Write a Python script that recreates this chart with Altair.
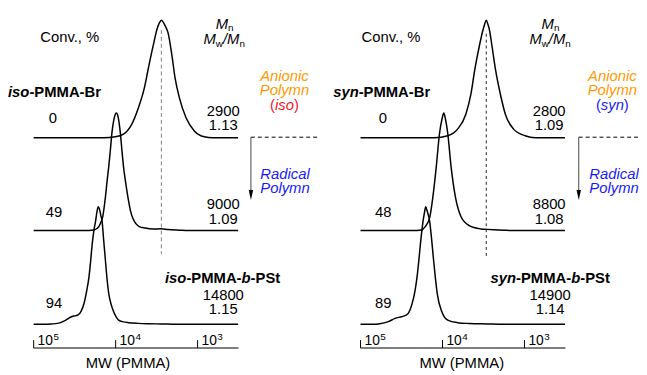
import altair as alt
import pandas as pd

FONT = "Liberation Sans"
W, H = 639, 367

# ---------------- values ----------------
# GPC traces: log10(MW) and RI intensity (% of peak)
iso_br_logmw = [5.000, 4.145, 4.004, 3.904, 3.804, 3.723, 3.651, 3.602, 3.542, 3.490, 3.466, 3.442,
                3.418, 3.394, 3.361, 3.313, 3.274, 3.221, 3.141, 3.040, 2.919, 2.819, 2.506]
iso_br_int = [0, 0, 0.8, 3.1, 11.4, 25.3, 42.0, 58.7, 78.3, 93.6, 97.7, 100,
              98.2, 95.0, 89.4, 69.9, 50.4, 33.7, 17.0, 5.8, 0.8, 0, 0]

iso_49_logmw = [5.000, 4.325, 4.265, 4.229, 4.205, 4.181, 4.157, 4.139, 4.124, 4.105, 4.084, 4.064,
                4.045, 4.024, 4.006, 3.992, 3.976, 3.958, 3.943, 3.924, 3.904, 3.874, 3.843, 3.819,
                3.789, 3.753, 3.711, 3.639, 3.542, 3.446, 3.361, 3.217, 3.121, 2.506]
iso_49_int = [0, 0, 0.4, 1.7, 3.4, 6.8, 11.9, 20.4, 28.9, 41.6, 54.4, 68.8,
              83.3, 93.5, 98.6, 100, 98.6, 91.8, 83.3, 68.8, 54.4, 39.1, 25.5, 17.0,
              10.2, 5.9, 3.4, 2.1, 1.3, 1.5, 0.8, 0.3, 0, 0]

iso_94_logmw = [5.000, 4.868, 4.783, 4.711, 4.651, 4.602, 4.566, 4.530, 4.494, 4.458, 4.422, 4.386,
                4.355, 4.325, 4.305, 4.286, 4.265, 4.245, 4.229, 4.213, 4.196, 4.181, 4.165, 4.147,
                4.124, 4.105, 4.084, 4.054, 4.024, 3.994, 3.964, 3.904, 3.843, 3.723, 3.602, 3.446,
                3.241, 2.506]
iso_94_int = [0, 0, 0.3, 0.8, 2.1, 3.8, 5.5, 6.7, 7.2, 8.0, 11.0, 17.7,
              27.8, 40.4, 53.9, 68.2, 80.0, 87.6, 95.2, 100, 97.7, 92.7, 87.6, 72.5,
              53.9, 38.8, 26.1, 16.8, 10.7, 6.3, 3.6, 2.1, 1.4, 0.8, 0.5, 0.3,
              0, 0]

syn_br_logmw = [5.000, 4.096, 3.936, 3.816, 3.715, 3.654, 3.606, 3.548, 3.502, 3.484, 3.466, 3.448,
                3.430, 3.398, 3.353, 3.293, 3.233, 3.133, 2.992, 2.868, 2.506]
syn_br_int = [0, 0, 1.7, 7.3, 20.0, 36.8, 57.9, 78.9, 92.7, 97.0, 100, 97.0,
              92.7, 78.9, 57.9, 36.8, 20.0, 7.3, 1.7, 0, 0]

syn_48_logmw = [5.000, 4.313, 4.253, 4.217, 4.157, 4.117, 4.076, 4.036, 4.006, 3.984, 3.964, 3.936,
                3.895, 3.843, 3.775, 3.675, 3.534, 3.454, 3.374, 3.253, 3.133, 2.506]
syn_48_int = [0, 0, 0.4, 2.8, 10.8, 28.8, 54.2, 82.8, 94.9, 100, 94.9, 82.8,
              54.2, 28.8, 11.9, 4.2, 1.4, 1.0, 0.7, 0.3, 0, 0]

syn_89_logmw = [5.000, 4.819, 4.780, 4.659, 4.578, 4.498, 4.452, 4.418, 4.370, 4.337, 4.310, 4.289,
                4.269, 4.237, 4.219, 4.205, 4.187, 4.157, 4.133, 4.108, 4.086, 4.064, 4.008, 3.936,
                3.816, 3.675, 3.454, 3.253, 2.506]
syn_89_int = [0, 0, 0.3, 2.3, 5.1, 6.5, 7.6, 9.3, 17.8, 27.9, 40.6, 54.1,
              68.5, 87.9, 95.5, 100, 96.4, 87.9, 72.7, 54.1, 39.0, 26.2, 10.7, 3.6,
              1.4, 0.7, 0.3, 0, 0]

conv_iso = ["0", "49", "94"]
conv_syn = ["0", "48", "89"]
mn_iso = ["2900", "9000", "14800"]
mn_syn = ["2800", "8800", "14900"]
pdi_iso = ["1.13", "1.09", "1.15"]
pdi_syn = ["1.09", "1.08", "1.14"]
tick_logmw = [5, 4, 3]
tick_exponents = ["5", "4", "3"]
axis_logmw = [5.0, 2.5]
iso_mp_logmw = [3.442]
syn_mp_logmw = [3.466]

# ---------------- layout ----------------
OFFSETS = [158.8, 79.8, 0.0]          # vertical stacking of the three traces
Y_DOMAIN = [-41.18, 267.23]
LEFT_DOMAIN = [-2.38554, 5.31325]
RIGHT_DOMAIN = [1.60241, 9.30120]
ORANGE, RED, BLUE = "#FF9900", "#F01828", "#1A1AF5"


def panel_frame(names, xs, ys):
    frames = []
    for n, lx, iy, off in zip(names, xs, ys, OFFSETS):
        frames.append(pd.DataFrame({"trace": n, "logmw": lx, "y": [v + off for v in iy]}))
    return pd.concat(frames, ignore_index=True)


left_df = panel_frame(["iso-Br", "iso-49", "iso-94"],
                      [iso_br_logmw, iso_49_logmw, iso_94_logmw],
                      [iso_br_int, iso_49_int, iso_94_int])
right_df = panel_frame(["syn-Br", "syn-48", "syn-89"],
                       [syn_br_logmw, syn_48_logmw, syn_89_logmw],
                       [syn_br_int, syn_48_int, syn_89_int])


def xq(field, domain):
    return alt.X(f"{field}:Q", scale=alt.Scale(domain=domain, reverse=True, zero=False, nice=False),
                 axis=None)


YENC = alt.Y("y:Q", scale=alt.Scale(domain=Y_DOMAIN, zero=False, nice=False), axis=None)


def label(s, x, y, size=15, weight="normal", style="normal", color="black", align="left"):
    return alt.Chart(pd.DataFrame({"t": [s]})).mark_text(
        align=align, baseline="alphabetic", font=FONT, fontSize=size,
        fontWeight=weight, fontStyle=style, color=color
    ).encode(text="t:N", x=alt.value(x), y=alt.value(y))


layers = []


def panel(df, dom, mp, mp_color, mp_dash, mp_y):
    layers.append(alt.Chart(df).mark_line(interpolate="monotone", color="black", strokeWidth=1.5).encode(
        x=xq("logmw", dom), y=YENC, detail="trace:N",
        order=alt.Order("logmw:Q", sort="descending")))
    ax = pd.DataFrame({"a": [axis_logmw[0]], "b": [axis_logmw[1]]})
    layers.append(alt.Chart(ax).mark_rule(color="black", strokeWidth=1.2).encode(
        x=xq("a", dom), x2="b:Q", y=alt.value(342)))
    tdf = pd.DataFrame({"logmw": tick_logmw, "exp": tick_exponents})
    layers.append(alt.Chart(tdf).mark_rule(color="black", strokeWidth=1).encode(
        x=xq("logmw", dom), y=alt.value(334), y2=alt.value(342)))
    layers.append(alt.Chart(tdf).mark_text(text="10", align="left", baseline="alphabetic", dx=4,
                                           font=FONT, fontSize=14).encode(
        x=xq("logmw", dom), y=alt.value(338.7)))
    layers.append(alt.Chart(tdf).mark_text(align="left", baseline="alphabetic", dx=20,
                                           font=FONT, fontSize=10).encode(
        x=xq("logmw", dom), y=alt.value(333.7), text="exp:N"))
    layers.append(alt.Chart(pd.DataFrame({"logmw": mp})).mark_rule(
        color=mp_color, strokeWidth=1, strokeDash=mp_dash).encode(
        x=xq("logmw", dom), y=alt.value(mp_y[0]), y2=alt.value(mp_y[1])))


panel(left_df, LEFT_DOMAIN, iso_mp_logmw, "#808080", [4, 3], (20, 247))
panel(right_df, RIGHT_DOMAIN, syn_mp_logmw, "#222222", [3, 3], (23.7, 248.7))

one = pd.DataFrame({"k": [0]})


def arrow(x):
    layers.append(alt.Chart(one).mark_rule(color="black", strokeWidth=1, strokeDash=[4, 3]).encode(
        x=alt.value(x), x2=alt.value(x + 70), y=alt.value(128.5)))
    layers.append(alt.Chart(one).mark_rule(color="#444444", strokeWidth=1).encode(
        x=alt.value(x), y=alt.value(128.5), y2=alt.value(186)))
    layers.append(alt.Chart(one).mark_point(shape="M-0.45,-1L0.45,-1L0,1Z", filled=True, opacity=1,
                                            color="black", size=100).encode(
        x=alt.value(x), y=alt.value(187)))


arrow(246)
arrow(578)


def m_block(x_mn, x_mw, base1=18.5, base2=34.5):
    layers.append(label("M", x_mn, base1, style="italic"))
    layers.append(label("n", x_mn + 12.5, base1 + 2.5, size=10))
    layers.append(label("M", x_mw, base2, style="italic"))
    layers.append(label("w", x_mw + 12.5, base2 + 2.5, size=10))
    layers.append(label("/", x_mw + 19.7, base2, style="italic"))
    layers.append(label("M", x_mw + 23.9, base2, style="italic"))
    layers.append(label("n", x_mw + 36.4, base2 + 2.5, size=10))


def bold_name(prefix, x, y, rest):
    pw = {"iso": 21.7, "syn": 25.8}[prefix]
    layers.append(label(prefix, x, y, weight="bold", style="italic"))
    layers.append(label(rest, x + pw, y, weight="bold"))


def block_name(prefix, x, y):
    pw = {"iso": 21.7, "syn": 25.8}[prefix]
    layers.append(label(prefix, x, y, weight="bold", style="italic"))
    layers.append(label("-PMMA-", x + pw, y, weight="bold"))
    layers.append(label("b", x + pw + 55.8, y, weight="bold", style="italic"))
    layers.append(label("-PSt", x + pw + 65.0, y, weight="bold"))


def panel_text(conv, mn, pdi, conv_x, num_x, conv_lbl_x, tac, tac_color, tac_w, anion_x, rad_x, mw_x):
    layers.append(label("Conv., %", conv_lbl_x, 32.5))
    for c, cx, by in zip(conv, conv_x, [114.5, 209, 301.5]):
        layers.append(label(c, cx, by, align="center"))
    for m, p, nx, b1, b2 in zip(mn, pdi, num_x, [107.5, 201.5, 293.5], [121.5, 216, 308]):
        layers.append(label(m, nx, b1, align="center"))
        layers.append(label(p, nx, b2, align="center"))
    layers.append(label("Anionic", anion_x, 71.5, style="italic", color=ORANGE, align="center"))
    layers.append(label("Polymn", anion_x, 85.5, style="italic", color=ORANGE, align="center"))
    start = anion_x - (10 + tac_w) / 2
    layers.append(label("(", start, 100.5, color=tac_color))
    layers.append(label(tac, start + 5, 100.5, style="italic", color=tac_color))
    layers.append(label(")", start + 5 + tac_w, 100.5, color=tac_color))
    layers.append(label("Radical", rad_x, 171, style="italic", color=BLUE, align="center"))
    layers.append(label("Polymn", rad_x, 185.5, style="italic", color=BLUE, align="center"))
    layers.append(label("MW (PMMA)", mw_x, 362.5, align="center"))


panel_text(conv_iso, mn_iso, pdi_iso, [45.5, 46.5, 46.5], [218, 218, 218], 32.7,
           "iso", RED, 19.2, 280, 280.5, 121.5)
panel_text(conv_syn, mn_syn, pdi_syn, [379.5, 380, 380], [548, 548, 549], 358,
           "syn", BLUE, 23.3, 612, 613.7, 459.5)

m_block(210.3, 198)
m_block(540.3, 528)
bold_name("iso", 0, 87.5, "-PMMA-Br")
bold_name("syn", 329.3, 87.5, "-PMMA-Br")
block_name("iso", 159, 276.5)
block_name("syn", 488.7, 276.5)

chart = alt.layer(*layers).resolve_scale(x="independent").properties(
    width=W, height=H, autosize=alt.AutoSizeParams(type="none"), padding=0
).configure_view(stroke=None)

chart.save("out.html", embed_options={"renderer": "svg", "actions": False})
